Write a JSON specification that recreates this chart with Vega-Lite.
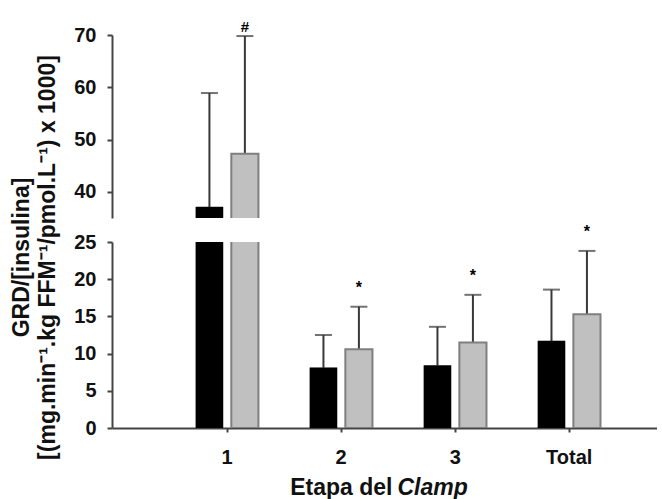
{
  "$schema": "https://vega.github.io/schema/vega-lite/v6.json",
  "background": "white",
  "padding": {"left": 10, "top": 20, "right": 0, "bottom": 0},
  "spacing": 24,
  "bounds": "flush",
  "datasets": {
    "bars": [
      {"etapa": "1", "grupo": "A", "value": 37.1, "upper": 58.9, "sig": ""},
      {"etapa": "1", "grupo": "B", "value": 47.3, "upper": 69.8, "sig": "#"},
      {"etapa": "2", "grupo": "A", "value": 8.1, "upper": 12.5, "sig": ""},
      {"etapa": "2", "grupo": "B", "value": 10.6, "upper": 16.3, "sig": "*"},
      {"etapa": "3", "grupo": "A", "value": 8.4, "upper": 13.6, "sig": ""},
      {"etapa": "3", "grupo": "B", "value": 11.5, "upper": 17.9, "sig": "*"},
      {"etapa": "Total", "grupo": "A", "value": 11.7, "upper": 18.6, "sig": ""},
      {"etapa": "Total", "grupo": "B", "value": 15.3, "upper": 23.8, "sig": "*"}
    ]
  },
  "vconcat": [
    {
      "width": 545,
      "height": 183,
      "data": {"name": "bars"},
      "encoding": {
        "x": {"field": "etapa", "type": "nominal", "sort": null,
              "scale": {"domain": ["1", "2", "3", "Total"], "paddingInner": 0.42, "paddingOuter": 0.6, "align": 0.6},
              "axis": null},
        "xOffset": {"field": "grupo", "type": "nominal", "scale": {"domain": ["A", "B"], "paddingInner": 0.235, "paddingOuter": 0.05}}
      },
      "layer": [
        {
          "mark": {"type": "rule", "clip": true, "color": "#383838", "strokeWidth": 2},
          "encoding": {
            "y": {"field": "value", "type": "quantitative", "scale": {"domain": [35, 70], "nice": false, "zero": false},
                  "axis": {"values": [40, 50, 60, 70], "title": null}},
            "y2": {"field": "upper"}
          }
        },
        {
          "mark": {"type": "tick", "clip": true, "color": "#383838", "size": 17, "thickness": 2, "orient": "horizontal"},
          "encoding": {"y": {"field": "upper", "type": "quantitative"}}
        },
        {
          "mark": {"type": "bar", "clip": true},
          "encoding": {
            "y": {"field": "value", "type": "quantitative"},
            "color": {"field": "grupo", "type": "nominal", "scale": {"domain": ["A", "B"], "range": ["#000000", "#c0c0c0"]}, "legend": null},
            "stroke": {"field": "grupo", "type": "nominal", "scale": {"domain": ["A", "B"], "range": ["#000000", "#7f7f7f"]}, "legend": null},
            "strokeWidth": {"field": "grupo", "type": "nominal", "scale": {"domain": ["A", "B"], "range": [0.5, 2]}, "legend": null}
          }
        },
        {
          "transform": [{"filter": "datum.sig == '#'"}],
          "mark": {"type": "text", "fontSize": 15, "fontWeight": "bold", "dy": -9, "baseline": "middle"},
          "encoding": {"y": {"field": "upper", "type": "quantitative"}, "text": {"field": "sig"}}
        }
      ]
    },
    {
      "width": 545,
      "height": 186,
      "data": {"name": "bars"},
      "resolve": {"axis": {"x": "independent"}},
      "encoding": {
        "x": {"field": "etapa", "type": "nominal", "sort": null,
              "scale": {"domain": ["1", "2", "3", "Total"], "paddingInner": 0.42, "paddingOuter": 0.6, "align": 0.6},
              "axis": null},
        "xOffset": {"field": "grupo", "type": "nominal", "scale": {"domain": ["A", "B"], "paddingInner": 0.235, "paddingOuter": 0.05}}
      },
      "layer": [
        {
          "mark": {"type": "rule", "clip": true, "color": "#383838", "strokeWidth": 2},
          "encoding": {
            "y": {"field": "value", "type": "quantitative", "scale": {"domain": [0, 25], "nice": false},
                  "axis": {"values": [0, 5, 10, 15, 20, 25], "labelOverlap": false,
                           "title": ["GRD/[insulina]", "[(mg.min⁻¹.kg FFM⁻¹/pmol.L⁻¹) x 1000]"],
                           "titleY": 15, "titlePadding": 14}},
            "y2": {"field": "upper"}
          }
        },
        {
          "mark": {"type": "tick", "clip": true, "color": "#383838", "size": 17, "thickness": 2, "orient": "horizontal"},
          "encoding": {
            "y": {"field": "upper", "type": "quantitative",
                  "axis": {"values": [0, 5, 10, 15, 20, 25], "labelOverlap": false,
                           "title": ["GRD/[insulina]", "[(mg.min⁻¹.kg FFM⁻¹/pmol.L⁻¹) x 1000]"],
                           "titleY": 15, "titlePadding": 14}}
          }
        },
        {
          "mark": {"type": "bar", "clip": true},
          "encoding": {
            "x": {"field": "etapa", "type": "nominal", "sort": null,
                  "scale": {"domain": ["1", "2", "3", "Total"], "paddingInner": 0.42, "paddingOuter": 0.6, "align": 0.6},
                  "axis": {"orient": "bottom", "title": "Etapa del", "titleX": 280, "titleY": 71, "titleAlign": "right", "titleBaseline": "bottom",
                           "labelAngle": 0, "tickSize": 4, "labelPadding": 15}},
            "y": {"field": "value", "type": "quantitative",
                  "axis": {"values": [0, 5, 10, 15, 20, 25], "labelOverlap": false,
                           "title": ["GRD/[insulina]", "[(mg.min⁻¹.kg FFM⁻¹/pmol.L⁻¹) x 1000]"],
                           "titleY": 15, "titlePadding": 14}},
            "color": {"field": "grupo", "type": "nominal", "scale": {"domain": ["A", "B"], "range": ["#000000", "#c0c0c0"]}, "legend": null},
            "stroke": {"field": "grupo", "type": "nominal", "scale": {"domain": ["A", "B"], "range": ["#000000", "#7f7f7f"]}, "legend": null},
            "strokeWidth": {"field": "grupo", "type": "nominal", "scale": {"domain": ["A", "B"], "range": [0.5, 2]}, "legend": null}
          }
        },
        {
          "transform": [{"filter": "datum.sig == '*'"}],
          "mark": {"type": "text", "fontSize": 16, "fontWeight": "bold", "dy": -19, "baseline": "middle"},
          "encoding": {
            "x": {"field": "etapa", "type": "nominal", "sort": null,
                  "scale": {"domain": ["1", "2", "3", "Total"], "paddingInner": 0.42, "paddingOuter": 0.6, "align": 0.6},
                  "axis": {"orient": "bottom", "title": "Clamp", "titleFontStyle": "italic", "titleX": 285, "titleY": 71, "titleAlign": "left", "titleBaseline": "bottom",
                           "labels": false, "ticks": false, "domain": false}},
            "y": {"field": "upper", "type": "quantitative",
                  "axis": {"values": [0, 5, 10, 15, 20, 25], "labelOverlap": false,
                           "title": ["GRD/[insulina]", "[(mg.min⁻¹.kg FFM⁻¹/pmol.L⁻¹) x 1000]"],
                           "titleY": 15, "titlePadding": 14}},
            "text": {"field": "sig"}
          }
        }
      ]
    }
  ],
  "config": {
    "font": "Liberation Sans",
    "view": {"stroke": null},
    "axis": {
      "grid": false,
      "labelOverlap": false,
      "domainColor": "#444444",
      "domainWidth": 2,
      "tickColor": "#444444",
      "tickWidth": 2,
      "labelFont": "Liberation Sans",
      "labelFontSize": 20,
      "labelFontWeight": "bold",
      "labelColor": "#111111",
      "titleFont": "Liberation Sans",
      "titleFontSize": 23,
      "titleFontWeight": "bold",
      "titleColor": "#111111",
      "titleLineHeight": 26
    },
    "axisY": {"tickSize": 5, "labelPadding": 11}
  }
}
